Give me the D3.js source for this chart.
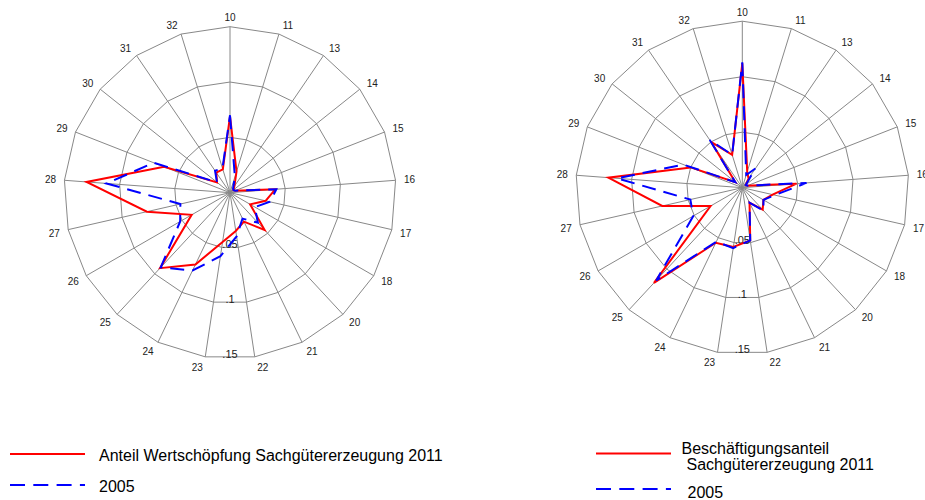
<!DOCTYPE html>
<html>
<head>
<meta charset="utf-8">
<script src="https://cdnjs.cloudflare.com/ajax/libs/d3/7.8.5/d3.min.js"></script>
<style>
	body { margin:0; background:#fff; }
	svg { display:block; font-family:"Liberation Sans", Arial, sans-serif; }
</style>
</head>
<body>
<svg id="chart" width="925" height="500"></svg>
<script>
// ÖNACE 2-digit sectors, clockwise from top
var categories = ['10','11','13','14','15','16','17','18','20','21','22','23','24','25','26','27','28','29','30','31','32'];

// share of value added in manufacturing
var wert2011 = [0.069,0.020,0.007,0.004,0.005,0.041,0.033,0.021,0.046,0.029,0.035,0.045,0.072,0.093,0.040,0.077,0.130,0.064,0.015,0.022,0.022];
var wert2005 = [0.070,0.015,0.005,0.004,0.005,0.042,0.037,0.026,0.037,0.026,0.040,0.058,0.078,0.092,0.052,0.046,0.112,0.074,0.015,0.024,0.023];

// share of employment in manufacturing
var besch2011 = [0.112,0.015,0.010,0.004,0.005,0.049,0.028,0.022,0.027,0.015,0.048,0.054,0.055,0.117,0.033,0.074,0.121,0.050,0.008,0.050,0.031];
var besch2005 = [0.113,0.012,0.021,0.004,0.005,0.058,0.030,0.022,0.028,0.015,0.048,0.055,0.054,0.114,0.051,0.048,0.113,0.057,0.008,0.052,0.031];

var ringTicks = [0.05, 0.1, 0.15];
var ringLabels = ['.05', '.1', '.15'];

var svg = d3.select('#chart');

function radar(cx, cy, R, s2011, s2005) {
	var n = categories.length
		, step = 2 * Math.PI / n
		, r = d3.scaleLinear().domain([0, 0.15]).range([0, R])
		, g = svg.append('g').attr('transform', 'translate(' + cx + ',' + cy + ')');

	var ring = d3.lineRadial()
		.angle(function(d, i) { return i * step; })
		.radius(function(d) { return r(d); })
		.curve(d3.curveLinearClosed);

	// rings
	ringTicks.forEach(function(t) {
		g.append('path')
			.attr('d', ring(categories.map(function() { return t; })))
			.attr('fill', 'none')
			.attr('stroke', '#888')
			.attr('stroke-width', 1);
	});

	// spokes
	g.selectAll('line.spoke')
		.data(categories)
		.enter().append('line')
			.attr('class', 'spoke')
			.attr('x1', 0)
			.attr('y1', 0)
			.attr('x2', function(d, i) { return Math.sin(i * step) * r(0.15); })
			.attr('y2', function(d, i) { return -Math.cos(i * step) * r(0.15); })
			.attr('stroke', '#888')
			.attr('stroke-width', 1);

	// category labels, pushed off the outer vertex
	g.selectAll('text.cat')
		.data(categories)
		.enter().append('text')
			.attr('class', 'cat')
			.text(function(d) { return d; })
			.attr('x', function(d, i) {
				var s = Math.sin(i * step);
				var dx = Math.abs(s) < 1e-6 ? 0 : Math.sign(s) * (7 + 7 * Math.abs(s));
				return s * r(0.15) + dx;
			})
			.attr('y', function(d, i) {
				var c = Math.cos(i * step);
				return -c * r(0.15) - c * 9 + (c < 0 ? 1.5 : 0);
			})
			.attr('text-anchor', 'middle')
			.attr('dominant-baseline', 'central')
			.attr('font-size', 10)
			.attr('fill', '#222');

	// ring values under the bottom edge
	g.selectAll('text.tick')
		.data(ringTicks)
		.enter().append('text')
			.attr('class', 'tick')
			.text(function(d, i) { return ringLabels[i]; })
			.attr('x', 0)
			.attr('y', function(d) { return r(d) * Math.cos(step / 2) + 1; })
			.attr('text-anchor', 'middle')
			.attr('font-size', 11)
			.attr('fill', '#222');

	g.append('path')
		.attr('d', ring(s2011))
		.attr('fill', 'none')
		.attr('stroke', '#ff0000')
		.attr('stroke-width', 2)
		.attr('stroke-linejoin', 'miter');
	g.append('path')
		.attr('d', ring(s2005))
		.attr('fill', 'none')
		.attr('stroke', '#0000ff')
		.attr('stroke-width', 2)
		.attr('stroke-dasharray', '14,8');
}

function legend(x, y1, y2, lines, textX, textX2) {
	svg.append('line')
		.attr('x1', x).attr('x2', x + 75)
		.attr('y1', y1).attr('y2', y1)
		.attr('stroke', '#ff0000')
		.attr('stroke-width', 2);
	svg.append('line')
		.attr('x1', x).attr('x2', x + 75)
		.attr('y1', y2).attr('y2', y2)
		.attr('stroke', '#0000ff')
		.attr('stroke-width', 2)
		.attr('stroke-dasharray', '15,8.3');
	lines.forEach(function(l) {
		svg.append('text')
			.text(l.t)
			.attr('x', l.x)
			.attr('y', l.y)
			.attr('font-size', 16)
			.attr('fill', '#000');
	});
}

radar(230, 192.7, 166, wert2011, wert2005);
radar(742.3, 187.7, 166.5, besch2011, besch2005);

legend(10, 454, 485, [
	{t:'Anteil Wertschöpfung Sachgütererzeugung 2011', x:99, y:461},
	{t:'2005', x:99, y:492}
]);
legend(596, 453.5, 489, [
	{t:'Beschäftigungsanteil', x:681.5, y:454},
	{t:'Sachgütererzeugung 2011', x:686.5, y:470},
	{t:'2005', x:687.5, y:497.5}
]);
</script>
</body>
</html>
